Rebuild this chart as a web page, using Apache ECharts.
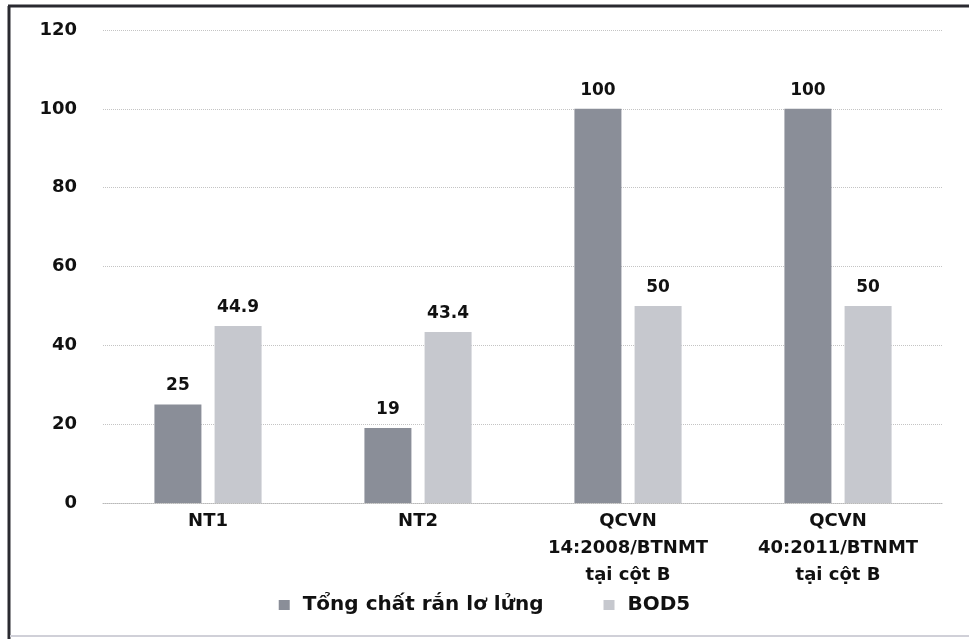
<!DOCTYPE html>
<html>
<head>
<meta charset="utf-8">
<script src="https://cdn.jsdelivr.net/npm/echarts@6/dist/echarts.min.js"></script>
<style>
  html, body { margin: 0; padding: 0; background: #fff; }
  #chart { width: 969px; height: 639px; }
</style>
</head>
<body>
<div id="chart"></div>
<script>
// Categories (sampling points and the two national standards)
const categories = ['NT1', 'NT2', 'QCVN\n14:2008/BTNMT\ntại cột B', 'QCVN\n40:2011/BTNMT\ntại cột B'];
// Total suspended solids (mg/l)
const tssValues = [25, 19, 100, 100];
// BOD5 (mg/l)
const bodValues = [44.9, 43.4, 50, 50];
const seriesNames = ['Tổng chất rắn lơ lửng', 'BOD5'];
const yTicks = { min: 0, max: 120, step: 20 };

const FONT = 'DejaVu Sans';
const chart = echarts.init(document.getElementById('chart'));

const labelStyle = {
  show: true,
  position: 'top',
  distance: 10,
  color: '#111',
  fontFamily: FONT,
  fontWeight: 'bold',
  fontSize: 17
};

chart.setOption({
  backgroundColor: '#fff',
  animation: false,
  grid: { left: 103, right: 26, top: 30, bottom: 136 },
  legend: {
    bottom: 19,
    left: 'center',
    itemWidth: 11,
    itemHeight: 10,
    itemGap: 60,
    icon: 'rect',
    textStyle: { fontFamily: FONT, fontWeight: 'bold', fontSize: 20, color: '#111', padding: [0, 0, 0, 8] },
    data: seriesNames
  },
  xAxis: {
    type: 'category',
    data: categories,
    axisLine: { show: true, lineStyle: { color: '#b8b8b8', type: 'dotted', width: 1 } },
    axisTick: { show: false },
    axisLabel: {
      interval: 0,
      margin: 5,
      color: '#111',
      fontFamily: FONT,
      fontWeight: 'bold',
      fontSize: 18,
      lineHeight: 27
    }
  },
  yAxis: {
    type: 'value',
    min: yTicks.min,
    max: yTicks.max,
    interval: yTicks.step,
    axisLine: { show: false },
    axisTick: { show: false },
    axisLabel: {
      margin: 26,
      color: '#111',
      fontFamily: FONT,
      fontWeight: 'bold',
      fontSize: 18
    },
    splitLine: { lineStyle: { color: '#c4c4c4', type: 'dotted', width: 1 } }
  },
  series: [
    {
      name: seriesNames[0],
      type: 'bar',
      data: tssValues,
      barWidth: 47,
      barGap: '28%',
      itemStyle: { color: '#8a8e98' },
      label: labelStyle
    },
    {
      name: seriesNames[1],
      type: 'bar',
      data: bodValues,
      barWidth: 47,
      itemStyle: { color: '#c6c8ce' },
      label: labelStyle
    }
  ],
  graphic: [
    // frame around the chart area
    { type: 'line', shape: { x1: 9, y1: 6, x2: 9, y2: 639 }, style: { stroke: '#2a2a30', lineWidth: 3 } },
    { type: 'line', shape: { x1: 8, y1: 6, x2: 969, y2: 6 }, style: { stroke: '#2a2a30', lineWidth: 3 } },
    { type: 'line', shape: { x1: 10, y1: 636, x2: 969, y2: 636 }, style: { stroke: '#d0d0d8', lineWidth: 2 } }
  ]
});
</script>
</body>
</html>
